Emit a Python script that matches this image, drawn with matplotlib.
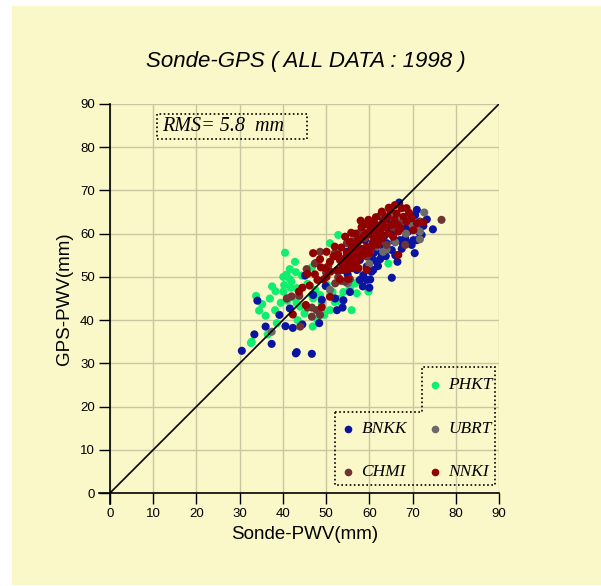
import matplotlib
matplotlib.use("Agg")
import matplotlib.pyplot as plt
from matplotlib.patches import Rectangle, Polygon

# ---------------- data ----------------
ticks = [0, 10, 20, 30, 40, 50, 60, 70, 80, 90]
title = "Sonde-GPS ( ALL DATA : 1998 )"
rms_text = "RMS= 5.8  mm"

phkt_x = [40.5, 52.8, 50.9, 41.6, 43.0, 46.7, 40.1, 41.6, 40.8, 42.0, 40.3, 41.8, 43.2, 38.3, 40.1,
          33.8, 37.0, 35.2, 34.5, 38.2, 43.2, 44.0, 43.4, 38.6, 36.5, 32.8, 46.7, 47.0, 45.7, 48.6,
          49.0, 49.4, 50.9, 53.2, 53.6, 55.5, 56.7, 57.4, 57.1, 59.8, 55.9, 54.8, 55.5, 64.4, 44.4,
          46.9, 49.6, 51.5, 52.0, 42.5, 37.5, 39.5, 45.0, 54.0, 48.0, 36.0, 42.8, 41.0, 47.5, 50.2, 32.6]
phkt_y = [55.6, 59.7, 57.8, 51.8, 51.1, 52.2, 50.0, 49.5, 50.5, 48.9, 48.1, 47.5, 47.4, 46.7, 46.6,
          45.6, 45.0, 43.7, 42.2, 42.3, 43.9, 43.1, 40.0, 39.3, 36.7, 35.0, 45.8, 45.0, 48.4, 45.8,
          43.9, 41.6, 42.3, 45.0, 43.9, 47.7, 48.5, 48.9, 46.2, 46.6, 42.3, 49.3, 47.0, 53.1, 50.3,
          38.5, 41.2, 46.5, 44.2, 45.2, 47.8, 44.0, 41.5, 46.5, 40.0, 41.0, 53.5, 44.5, 47.0, 48.2, 34.7]

bnkk_x = [30.5, 33.4, 37.4, 34.1, 39.2, 40.6, 42.3, 44.5, 43.0, 43.2, 46.7, 48.4, 41.6, 45.1, 47.0,
          49.0, 49.9, 52.1, 53.8, 54.0, 54.8, 57.8, 58.6, 59.4, 60.2, 60.5, 60.9, 62.5, 61.7, 62.9,
          65.2, 66.5, 63.2, 64.0, 65.2, 67.1, 68.3, 69.0, 69.8, 70.2, 71.0, 70.6, 73.3, 74.7, 66.9,
          62.5, 64.0, 71.0, 71.7, 72.1, 57.8, 59.4, 60.9, 57.1, 64.4, 65.5, 68.7, 69.8, 52.5, 55.0,
          56.5, 58.0, 61.5, 63.5, 66.0, 67.5, 69.0, 72.5, 70.5, 56.0, 53.0, 66.0, 62.0, 59.0, 67.5, 36.0,
          61.0, 63.8, 65.8, 67.8, 60.0, 58.5, 62.0, 55.5]
bnkk_y = [32.9, 36.7, 34.5, 44.5, 41.2, 38.6, 38.2, 39.0, 32.3, 32.6, 32.2, 39.3, 42.7, 50.3, 45.8,
          44.7, 47.9, 45.0, 42.9, 44.6, 55.8, 49.3, 50.4, 49.3, 49.4, 51.2, 51.6, 54.1, 53.5, 55.1,
          49.8, 53.5, 57.0, 57.8, 56.2, 58.5, 58.9, 57.8, 57.4, 58.5, 65.5, 64.3, 63.3, 61.0, 67.2,
          64.1, 63.3, 58.5, 60.1, 59.7, 53.9, 52.4, 53.9, 51.6, 61.2, 60.9, 61.6, 62.4, 42.3, 50.5,
          52.5, 56.5, 56.0, 59.5, 55.0, 56.5, 60.5, 61.8, 55.5, 55.0, 51.5, 62.5, 60.5, 58.5, 63.0, 38.5,
          55.5, 54.8, 58.2, 57.5, 47.5, 47.8, 52.5, 46.5]

ubrt_x = [37.4, 50.9, 57.8, 58.5, 61.3, 61.7, 63.2, 64.0, 67.1, 68.3, 69.8, 71.0, 71.7, 72.7, 71.7,
          70.2, 53.5, 55.0, 56.5, 59.5, 66.0, 68.5, 62.5, 65.0, 60.0, 54.5, 66.5, 41.0]
ubrt_y = [37.3, 47.0, 60.3, 60.5, 57.8, 57.0, 55.8, 56.4, 63.6, 63.2, 62.4, 60.9, 60.5, 64.9, 58.7,
          61.6, 49.0, 48.5, 59.0, 56.0, 58.0, 60.0, 61.5, 64.0, 53.0, 52.0, 61.0, 45.0]

chmi_x = [40.9, 45.7, 46.7, 47.8, 48.6, 48.6, 47.8, 52.1, 53.2, 54.4, 55.5, 54.8, 55.5, 56.3, 57.8,
          58.2, 59.4, 60.2, 61.2, 64.0, 68.3, 71.7, 76.7, 45.5, 47.4, 43.8, 46.7, 52.8, 50.5, 52.0,
          56.8, 59.0, 62.5, 65.5, 67.0, 42.0, 44.0, 50.0, 57.0, 60.8, 63.0]
chmi_y = [45.0, 42.9, 42.9, 42.3, 41.2, 55.8, 53.3, 48.5, 49.3, 48.9, 49.5, 57.8, 57.8, 58.1, 60.1,
          60.5, 54.7, 55.8, 57.2, 57.4, 57.4, 62.8, 63.2, 51.8, 53.1, 45.6, 40.8, 49.9, 52.5, 55.5,
          54.2, 59.0, 58.2, 61.5, 62.2, 45.5, 38.5, 51.0, 56.0, 61.8, 64.5]

nnki_x = [42.3, 43.7, 45.3, 49.0, 45.7, 47.4, 48.0, 49.4, 50.1, 50.1, 48.6, 48.8, 50.9, 51.7, 53.2,
          54.4, 55.1, 54.4, 55.5, 54.0, 55.1, 55.9, 53.2, 55.1, 56.3, 57.1, 57.8, 58.6, 55.9, 57.1,
          57.8, 59.4, 57.4, 59.4, 60.5, 61.7, 59.8, 60.9, 61.7, 63.2, 62.9, 64.8, 65.9, 67.5, 68.6,
          66.3, 67.9, 68.6, 69.8, 71.0, 72.5, 64.4, 65.5, 66.7, 60.5, 66.7, 59.4, 50.9, 56.5, 58.5,
          60.0, 62.0, 63.0, 61.0, 58.2, 56.8, 53.5, 52.0, 47.0, 58.0, 63.8, 70.2, 65.0, 62.5, 54.8,
          57.5, 52.5, 46.2, 49.8, 44.5, 58.8, 60.2, 61.5, 62.3, 63.5, 64.2, 65.8, 66.5, 59.0, 57.2,
          56.0, 53.8, 52.8, 51.0, 55.8, 60.8, 62.8, 67.2, 69.2, 64.5]
nnki_y = [41.3, 46.6, 43.5, 43.0, 50.7, 50.6, 49.3, 49.4, 50.0, 55.8, 54.1, 52.2, 53.5, 54.7, 53.9,
          54.3, 53.1, 59.3, 58.1, 51.6, 51.8, 52.0, 49.4, 49.5, 52.8, 53.5, 54.7, 55.1, 56.6, 57.4,
          58.5, 57.0, 58.5, 60.1, 59.7, 58.9, 63.2, 62.8, 62.0, 62.8, 65.1, 65.5, 66.6, 65.9, 65.9,
          64.7, 63.9, 62.8, 63.6, 62.4, 62.6, 60.1, 59.3, 60.5, 57.0, 55.1, 51.6, 45.4, 55.5, 56.2,
          55.5, 57.5, 59.0, 61.0, 61.5, 60.0, 56.8, 57.0, 55.5, 63.0, 63.8, 60.8, 62.0, 60.0, 55.5,
          52.0, 51.5, 48.0, 52.0, 47.5, 59.5, 61.5, 63.8, 61.0, 61.5, 64.0, 63.2, 62.0, 62.2, 56.2,
          54.0, 52.8, 55.2, 51.2, 60.2, 58.0, 59.8, 61.2, 64.8, 66.0]

stations = ["PHKT", "BNKK", "UBRT", "CHMI", "NNKI"]
colors = {"PHKT": "#10EE70", "BNKK": "#0A14A0", "UBRT": "#6A6A6A",
          "CHMI": "#6E3434", "NNKI": "#900000"}
series = {"PHKT": (phkt_x, phkt_y), "BNKK": (bnkk_x, bnkk_y), "UBRT": (ubrt_x, ubrt_y),
          "CHMI": (chmi_x, chmi_y), "NNKI": (nnki_x, nnki_y)}

# ---------------- figure ----------------
W, H = 601, 586
bg = "#FAF8C8"
fig = plt.figure(figsize=(W / 100, H / 100), dpi=100, facecolor="white")
fig.patches.append(Rectangle((12 / W, 1 / H), 1 - 12 / W, (585 - 6) / H,
                             transform=fig.transFigure, facecolor=bg, edgecolor="none", zorder=-10))

ax = fig.add_axes([110 / W, 1 - 493 / H, 389 / W, 389 / H])
ax.set_zorder(1)
ax.set_facecolor(bg)
ax.set_xlim(0, 90)
ax.set_ylim(0, 90)
ax.set_xticks(ticks)
ax.set_yticks(ticks)
ax.grid(True, color="#C8C8A0", lw=1.0, zorder=0)
ax.set_axisbelow(True)
for s in ax.spines.values():
    s.set_visible(False)
ax.tick_params(direction="out", length=8, width=1, labelsize=9.5, pad=3)
for lab in ax.get_xticklabels() + ax.get_yticklabels():
    lab.set_fontfamily("Liberation Sans")

# axis lines extending by tick length
ext = 11 / 389
ax.plot([-ext, 1], [0, 0], color="black", lw=1.2, transform=ax.transAxes, clip_on=False, zorder=5)
ax.plot([0, 0], [-ext, 1], color="black", lw=1.2, transform=ax.transAxes, clip_on=False, zorder=5)

# 1:1 line
ax.plot([0, 90], [0, 90], color="black", lw=1.2, zorder=4)

for st in stations:
    x, y = series[st]
    ax.scatter(x, y, s=34, color=colors[st], edgecolors="none", zorder=3)

ax.set_xlabel("Sonde-PWV(mm)", fontsize=13.5, family="Liberation Sans", labelpad=4)
ax.set_ylabel("GPS-PWV(mm)", fontsize=13.5, family="Liberation Sans", labelpad=5)
fig.text(306 / W, 1 - 62 / H, title, fontsize=16, style="italic", family="Liberation Sans",
         ha="center", va="center", zorder=5)

# RMS box
ax.add_patch(Rectangle((0.1208, 0.909), 0.5057 - 0.1208, 0.9735 - 0.909, transform=ax.transAxes,
                       facecolor="none", edgecolor="black", lw=1.2, linestyle=(0, (1, 1.5)),
                       clip_on=False, zorder=6))
ax.text(0.134, 0.941, rms_text, transform=ax.transAxes, fontsize=14.5, style="italic",
        family="Liberation Serif", ha="left", va="center", zorder=7)

# legend (stepped box)
poly = [(0.578, 0.209), (0.801, 0.209), (0.801, 0.323), (0.990, 0.323), (0.990, 0.0206), (0.578, 0.0206)]
ax.add_patch(Polygon(poly, closed=True, transform=ax.transAxes, facecolor="none", edgecolor="black",
                     lw=1.2, linestyle=(0, (1, 1.5)), clip_on=False, zorder=6))
leg_pos = {"PHKT": (0.8355, 0.2776), "BNKK": (0.6126, 0.1638), "UBRT": (0.8355, 0.1638),
           "CHMI": (0.6126, 0.0548), "NNKI": (0.8355, 0.0548)}
for st in stations:
    lx, ly = leg_pos[st]
    ax.plot([lx], [ly], "o", ms=5.5, color=colors[st], mec="none", transform=ax.transAxes,
            clip_on=False, zorder=7)
    ax.text(lx + 0.034, ly, st, transform=ax.transAxes, fontsize=12.5, style="italic",
            family="Liberation Serif", ha="left", va="center", zorder=7)

fig.savefig("out.png", dpi=100, facecolor="white")
